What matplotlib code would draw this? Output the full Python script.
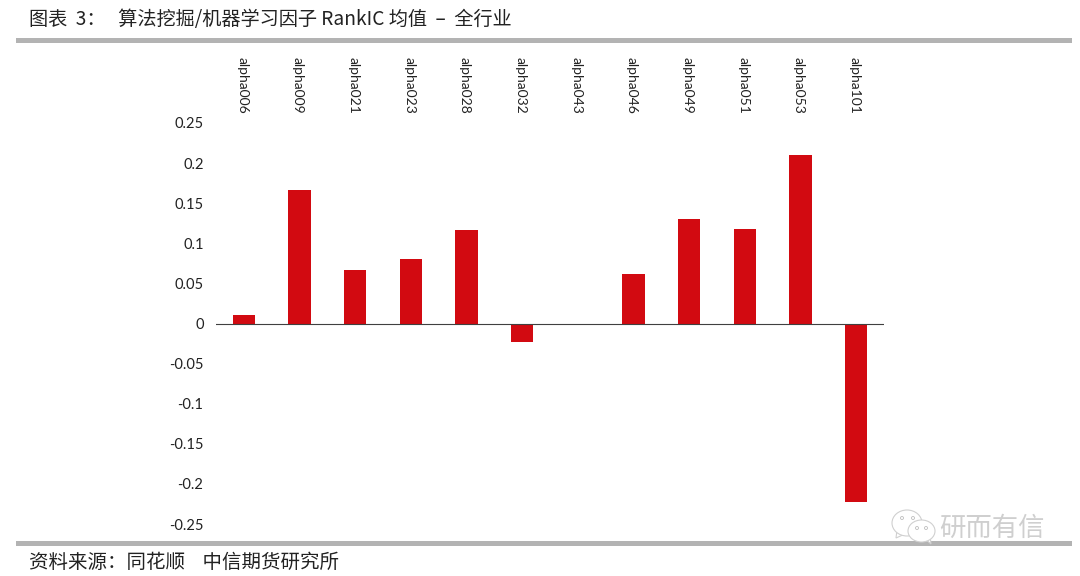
import matplotlib
matplotlib.use("Agg")
import matplotlib.pyplot as plt
from matplotlib.patches import Rectangle, Ellipse, Polygon
from matplotlib.transforms import ScaledTranslation

categories = ["alpha006", "alpha009", "alpha021", "alpha023", "alpha028", "alpha032",
              "alpha043", "alpha046", "alpha049", "alpha051", "alpha053", "alpha101"]
values = [0.011, 0.167, 0.067, 0.081, 0.117, -0.023, 0.0, 0.062, 0.130, 0.118, 0.210, -0.222]
yticks = [0.25, 0.2, 0.15, 0.1, 0.05, 0, -0.05, -0.1, -0.15, -0.2, -0.25]
ylabels = ["0.25", "0.2", "0.15", "0.1", "0.05", "0", "-0.05", "-0.1", "-0.15", "-0.2", "-0.25"]
title = "图表  3：   算法挖掘/机器学习因子 RankIC 均值  –  全行业"
source = "资料来源：同花顺    中信期货研究所"
watermark = "研而有信"

W, H = 1080, 576
CJK = ["Noto Sans CJK SC", "DejaVu Sans"]
fig = plt.figure(figsize=(W / 100, H / 100), dpi=100, facecolor="white")
px = lambda x, y: (x / W, 1 - y / H)

ax = fig.add_axes([216 / W, 1 - 524 / H, (884 - 216) / W, 401 / H])
ax.set_xlim(-0.5, len(categories) - 0.5)
ax.set_ylim(-0.25, 0.25)
ax.bar(range(len(categories)), values, width=0.4, color="#D20A11", zorder=2)
for s in ["left", "right", "top", "bottom"]:
    ax.spines[s].set_visible(False)
ax.axhline(0, color="#404040", lw=0.8, zorder=3)
ax.set_yticks(yticks)
ax.set_yticklabels(ylabels, family="Lato", fontsize=10.5, color="#222222")
ax.tick_params(axis="y", length=0, pad=9)
ax.xaxis.tick_top()
ax.set_xticks(range(len(categories)))
ax.set_xticklabels(categories, rotation=270, family="Lato", fontsize=10, color="#222222", ha="center", va="bottom")
ax.tick_params(axis="x", length=0, pad=6.5)
shift = ScaledTranslation(-1.5 / 100, 0, fig.dpi_scale_trans)
for t in ax.get_xticklabels():
    t.set_transform(t.get_transform() + shift)

fig.add_artist(Rectangle(px(16, 43), 1056 / W, 5 / H, transform=fig.transFigure, color="#B3B3B3", lw=0))
fig.add_artist(Rectangle(px(16, 546), 1056 / W, 5 / H, transform=fig.transFigure, color="#B3B3B3", lw=0))

x, y = px(29, 19)
fig.text(x, y, title, family=CJK, fontsize=13.8, color="#222222", va="center", ha="left")
x, y = px(29, 562)
fig.text(x, y, source, family=CJK, fontsize=14, color="#222222", va="center", ha="left")

# watermark
x, y = px(939, 528.5)
fig.text(x, y, watermark, family=CJK, fontsize=19, color="#CFCFCF", va="center", ha="left", fontweight="light")
tr = fig.transFigure
fig.add_artist(Polygon([px(897, 530), px(896, 538), px(905, 534)], transform=tr, fc="white", ec="#D0D0D0", lw=0.8, zorder=5))
fig.add_artist(Ellipse(px(907, 523), 30 / W, 26 / H, transform=tr, fc="white", ec="#D0D0D0", lw=0.8, zorder=5))
fig.add_artist(Polygon([px(924, 538), px(931, 544), px(930, 535)], transform=tr, fc="white", ec="#D0D0D0", lw=0.8, zorder=6))
fig.add_artist(Ellipse(px(921.5, 531), 27 / W, 22 / H, transform=tr, fc="white", ec="#D0D0D0", lw=0.8, zorder=6))
for cx, cy, z in [(902, 518, 7), (913, 518, 7), (917, 528, 7), (926, 528, 7)]:
    fig.add_artist(Ellipse(px(cx, cy), 3 / W, 3 / H, transform=tr, fc="white", ec="#BDBDBD", lw=0.6, zorder=z))

fig.savefig("out.png", dpi=100, facecolor="white")
